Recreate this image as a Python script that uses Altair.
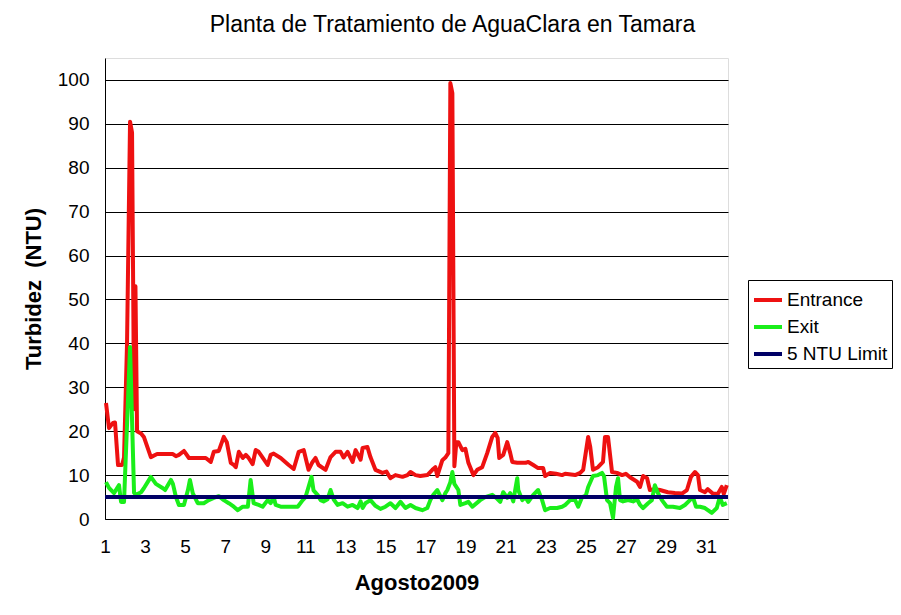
import altair as alt
import pandas as pd

# Entrance turbidity (NTU): day of August 2009 and value
ent_day = [1.05, 1.2, 1.4, 1.5, 1.65, 1.85, 1.95, 2.1, 2.25, 2.35, 2.45, 2.52, 2.6, 2.8, 2.94,
           3.29, 3.6, 4.39, 4.54, 4.69, 4.94, 5.19, 6.03, 6.28, 6.43, 6.68, 6.93, 7.08, 7.28,
           7.43, 7.53, 7.68, 7.88, 8.03, 8.17, 8.37, 8.52, 8.67, 8.87, 9.12, 9.27, 9.42, 9.77,
           10.17, 10.42, 10.67, 10.92, 11.16, 11.36, 11.51, 11.66, 12.01, 12.26, 12.51, 12.76,
           12.91, 13.11, 13.36, 13.51, 13.76, 13.86, 14.1, 14.25, 14.5, 14.85, 15.05, 15.25,
           15.5, 15.85, 16.1, 16.25, 16.5, 16.74, 17.09, 17.34, 17.49, 17.59, 17.84, 17.99,
           18.14, 18.24, 18.34, 18.44, 18.54, 18.64, 18.84, 18.99, 19.14, 19.39, 19.58, 19.83,
           20.08, 20.33, 20.48, 20.6, 20.68, 20.88, 21.08, 21.23, 21.33, 21.58, 22.0, 22.13,
           22.38, 22.62, 22.87, 22.97, 23.22, 23.52, 23.82, 23.97, 24.47, 24.72, 24.87, 25.12,
           25.22, 25.36, 25.61, 25.86, 25.96, 26.11, 26.31, 26.56, 26.81, 27.0, 27.21, 27.56,
           27.71, 27.86, 28.06, 28.2, 28.45, 28.7, 29.1, 29.45, 29.8, 30.05, 30.25, 30.45,
           30.6, 30.7, 30.95, 31.09, 31.34, 31.59, 31.79, 31.89, 32.04]
ent_val = [26.4, 20.7, 21.9, 22.0, 12.3, 12.3, 14.0, 40.0, 90.5, 88.0, 25.0, 53.0, 20.0, 19.5, 18.7,
           14.1, 14.8, 14.8, 14.3, 14.6, 15.5, 13.9, 13.9, 13.0, 15.3, 15.5, 18.7, 17.5, 12.8,
           12.3, 11.8, 15.3, 13.9, 14.6, 13.9, 12.5, 15.7, 15.3, 14.0, 12.3, 14.6, 14.9, 13.9,
           12.3, 11.4, 15.3, 15.7, 11.2, 13.0, 13.9, 12.3, 11.2, 14.1, 15.3, 15.3,
           14.0, 15.3, 13.0, 15.7, 13.5, 16.2, 16.4, 14.1, 11.2, 10.5, 10.8, 9.3,
           10.0, 9.6, 10.0, 10.7, 10.0, 9.8, 10.0, 11.2, 11.8, 9.8, 13.4, 14.0,
           15.0, 99.3, 97.0, 12.0, 17.5, 17.5, 15.7, 16.0, 12.8, 10.0, 11.2, 11.8,
           15.0, 18.7, 19.6, 18.5, 13.9, 14.6, 17.5, 15.0, 13.0, 12.8, 12.8, 13.0,
           12.3, 11.6, 11.6, 9.8, 10.5, 10.3, 10.0, 10.3, 10.0, 10.5, 11.2, 18.7,
           16.5, 11.2, 11.8, 13.0, 18.7, 18.7, 10.7, 10.5, 10.0, 10.3, 9.5, 8.5,
           7.3, 9.8, 9.3, 6.6, 6.8, 6.6, 6.1, 5.9, 5.8, 6.6, 9.6, 10.7,
           10.0, 6.6, 6.1, 6.8, 5.8, 5.7, 7.3, 5.7, 7.7]

# Exit turbidity (NTU)
exit_day = [1.05, 1.2, 1.45, 1.7, 1.8, 1.95, 2.25, 2.45, 2.54, 2.8, 2.94, 3.29, 3.54, 3.89, 4.0,
            4.29, 4.39, 4.54, 4.69, 4.94, 5.14, 5.24, 5.38, 5.63, 5.93, 6.18, 6.43, 6.68, 6.93,
            7.18, 7.43, 7.63, 7.88, 8.13, 8.27, 8.42, 8.67, 8.87, 9.12, 9.27, 9.42, 9.52, 9.77,
            10.62, 10.87, 11.01, 11.16, 11.31, 11.41, 11.61, 11.76, 11.91, 12.11, 12.26, 12.41,
            12.61, 12.86, 13.11, 13.36, 13.61, 13.76, 13.86, 14.0, 14.25, 14.5, 14.75, 15.0,
            15.25, 15.5, 15.75, 16.0, 16.25, 16.5, 16.84, 17.09, 17.24, 17.39, 17.59, 17.84,
            17.99, 18.09, 18.24, 18.34, 18.44, 18.64, 18.74, 18.99, 19.14, 19.34, 19.73, 19.98,
            20.33, 20.58, 20.73, 20.88, 21.08, 21.23, 21.38, 21.58, 21.63, 21.83, 21.98, 22.13,
            22.38, 22.62, 22.82, 22.97, 23.22, 23.57, 23.82, 23.97, 24.22, 24.47, 24.62, 24.82,
            25.0, 25.12, 25.36, 25.61, 25.81, 25.91, 26.06, 26.21, 26.36, 26.51, 26.61, 26.71,
            26.86, 27.11, 27.36, 27.56, 27.71, 27.86, 28.11, 28.3, 28.45, 28.6, 28.8, 29.05,
            29.35, 29.7, 29.95, 30.2, 30.35, 30.5, 30.7, 30.95, 31.29, 31.54, 31.69, 31.84, 32.04]
exit_val = [8.4, 7.1, 5.9, 7.7, 3.9, 3.9, 39.2, 6.0, 5.5, 6.1, 7.0, 9.6, 8.0, 7.0, 6.6,
            8.9, 8.0, 5.0, 3.2, 3.2, 6.6, 8.9, 5.9, 3.6, 3.6, 4.3, 4.8, 5.2, 4.3,
            3.6, 2.8, 2.0, 2.8, 2.8, 8.9, 3.6, 3.2, 2.8, 4.3, 3.6, 5.0, 3.2, 2.8,
            2.8, 4.3, 5.0, 7.3, 9.6, 6.5, 5.5, 4.3, 4.0, 4.5, 6.6, 4.5,
            3.2, 3.6, 2.8, 3.2, 2.5, 4.0, 2.5, 3.6, 4.3, 3.0, 2.3, 2.8,
            3.6, 2.5, 3.9, 2.5, 3.2, 2.5, 2.0, 2.5, 4.3, 5.5, 6.6, 4.3,
            5.9, 6.6, 8.4, 10.7, 8.0, 6.6, 3.2, 3.6, 3.9, 2.8, 4.3, 5.0,
            5.5, 4.6, 3.9, 6.1, 4.8, 5.9, 4.0, 9.3, 6.6, 4.3, 5.0, 3.9,
            5.5, 6.6, 4.3, 2.0, 2.5, 2.5, 2.8, 3.2, 4.3, 4.3, 2.8, 5.0,
            5.3, 7.3, 9.8, 10.0, 10.5, 9.8, 4.3, 3.6, 0.3, 7.3, 9.3, 4.3,
            4.0, 4.3, 4.0, 4.5, 3.2, 2.5, 3.6, 4.3, 7.7, 5.9, 4.3, 2.8,
            2.8, 2.5, 3.2, 4.3, 5.0, 2.8, 2.8, 2.5, 1.4, 2.5, 5.0, 3.2, 3.6]

# 5 NTU limit
limit_day = [1.0, 32.1]
limit_val = [5, 5]

series_names = ["Entrance", "Exit", "5 NTU Limit"]
series_colors = ["#ee1111", "#1aee1a", "#000066"]
y_ticks = list(range(0, 101, 10))
x_ticks = list(range(1, 32, 2))

FONT = "Liberation Sans"

df_ent = pd.DataFrame({"day": ent_day, "ntu": ent_val, "serie": "Entrance", "o": range(len(ent_day))})
df_exit = pd.DataFrame({"day": exit_day, "ntu": exit_val, "serie": "Exit", "o": range(len(exit_day))})
df_lim = pd.DataFrame({"day": limit_day, "ntu": limit_val, "serie": "5 NTU Limit", "o": range(len(limit_day))})

x_enc = alt.X("day:Q",
              scale=alt.Scale(domain=[1, 32.1], nice=False, zero=False),
              axis=alt.Axis(values=x_ticks, title="Agosto2009", grid=False, ticks=False,
                            labelFlush=False, labelOverlap=False,
                            labelFontSize=19, labelPadding=18, titleFontSize=22,
                            titleFontWeight="bold", titlePadding=16, domainColor="#000000",
                            labelColor="#000000", titleColor="#000000", labelFont=FONT,
                            titleFont=FONT))
y_enc = alt.Y("ntu:Q",
              scale=alt.Scale(domain=[0, 105], nice=False),
              axis=alt.Axis(values=y_ticks, title="Turbidez\u00a0 (NTU)", grid=True,
                            gridColor="#000000", gridWidth=1, ticks=False,
                            labelFlush=False, labelOverlap=False,
                            labelFontSize=19, labelPadding=16, titleFontSize=22,
                            titleFontWeight="bold", titlePadding=12, domainColor="#000000",
                            labelColor="#000000", titleColor="#000000", labelFont=FONT,
                            titleFont=FONT))
color_enc = alt.Color("serie:N",
                      scale=alt.Scale(domain=series_names, range=series_colors),
                      legend=alt.Legend(title=None, orient="none", legendX=643, legendY=222,
                                        symbolType="stroke", symbolSize=784,
                                        symbolStrokeWidth=4, labelFontSize=19,
                                        labelFont=FONT, labelColor="#000000",
                                        labelOffset=3, rowPadding=1, padding=4,
                                        strokeColor="#000000", fillColor="#ffffff",
                                        cornerRadius=0))


def layer(df):
    return alt.Chart(df).mark_line(strokeWidth=4, strokeJoin="round").encode(
        x=x_enc, y=y_enc, color=color_enc, order="o:Q")


chart = alt.layer(layer(df_ent), layer(df_exit), layer(df_lim)).properties(
    width=623,
    height=461,
    title=alt.TitleParams("Planta de Tratamiento de AguaClara en Tamara", fontSize=23,
                          font=FONT, fontWeight="normal", color="#000000", dx=36, offset=21),
    autosize=alt.AutoSizeParams(type="none"),
    padding={"left": 97, "top": 50, "right": 165, "bottom": 88},
).configure_view(stroke="#808080", strokeWidth=1).configure(background="#ffffff")

chart.save("out.html", embed_options={"renderer": "svg", "actions": False})
